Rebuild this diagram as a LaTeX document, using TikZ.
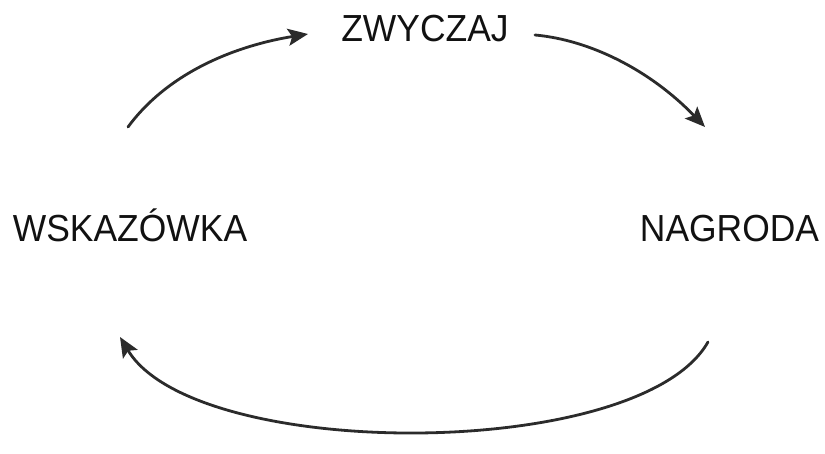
\documentclass[tikz,border=0pt]{standalone}
\usepackage{fontspec}
\setmainfont{Liberation Sans}
\usetikzlibrary{arrows.meta}
\definecolor{arc}{HTML}{2B2B2B}
\definecolor{txt}{HTML}{111111}
\tikzset{
  label/.style={anchor=base, inner sep=0pt, text=txt, font=\fontsize{37.7pt}{40pt}\selectfont, xscale=0.94},
  cyclearrow/.style={draw=arc, line width=2.8pt, line cap=round, -{Stealth[length=20pt,width=17pt,inset=4pt]}}
}
\begin{document}
\begin{tikzpicture}[x=1pt,y=-1pt]
\useasboundingbox (0,0) rectangle (825,454);
\node[label] (zw) at (425,42) {ZWYCZAJ};
\node[label] (wsk) at (130,242) {WSKAZÓWKA};
\node[label] (nag) at (729.5,242) {NAGRODA};
\coordinate (a1s) at (128,127);
\coordinate (a1e) at (308,34);
\coordinate (a2s) at (535,35);
\coordinate (a2e) at (705,127);
\coordinate (a3s) at (708,342);
\coordinate (a3e) at (120,337);
\draw[cyclearrow] (a1s) .. controls (170,70) and (240,45) .. (a1e);
\draw[cyclearrow] (a2s) .. controls (590,40) and (650,70) .. (a2e);
\draw[cyclearrow] (a3s) .. controls (640,462) and (195,462) .. (a3e);
\end{tikzpicture}
\end{document}
